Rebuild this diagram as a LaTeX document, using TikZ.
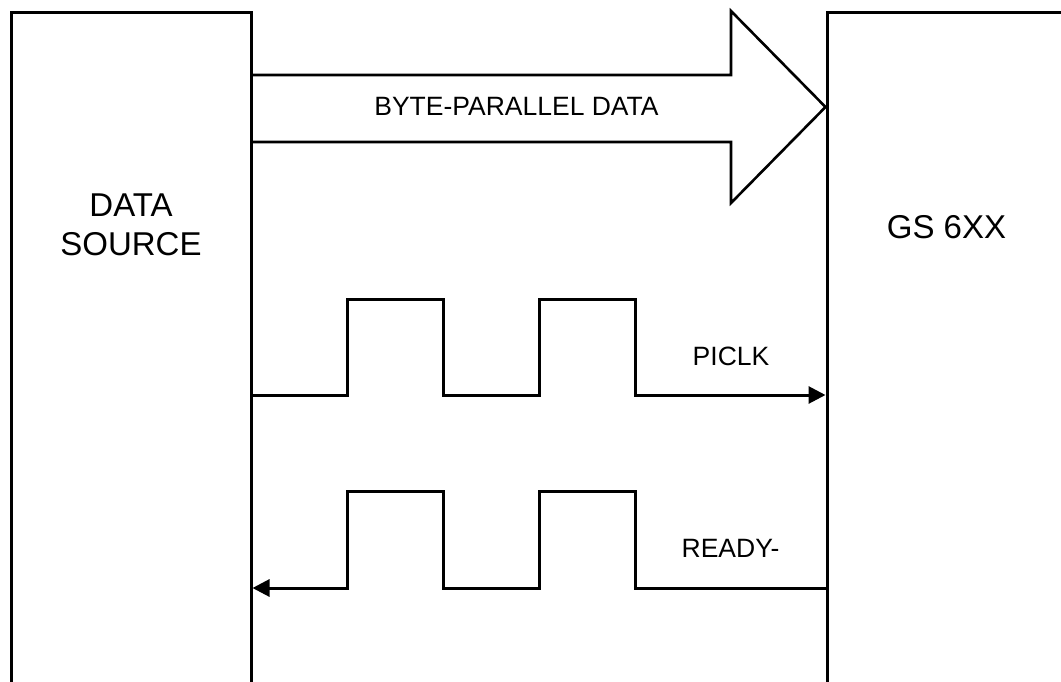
\documentclass[tikz,border=0pt]{standalone}
\usepackage{fontspec}
\setmainfont{Liberation Sans}
\usetikzlibrary{arrows.meta}
\begin{document}
\begin{tikzpicture}[x=1pt,y=-1pt,
  box/.style={draw,line width=3pt,minimum width=240pt,minimum height=700pt,inner sep=0pt},
  wire/.style={line width=3pt},
  sig/.style={wire,-{Triangle[length=17pt,width=17pt]}},
  big/.style={font=\fontsize{33}{39.5}\selectfont,align=center},
  small/.style={font=\fontsize{26.5}{30}\selectfont}]
\useasboundingbox (0,0) rectangle (1061,681);
\clip (0,0) rectangle (1061,681);
\fill[white] (0,0) rectangle (1061,681);
% boxes
\node[box] (src) at (131,362) {};
\node[box,minimum width=260pt] (gs) at (957,362) {};
\node[big] (srclbl) at (131,225) {DATA\\SOURCE};
\node[big] (gslbl) at (946.5,227) {GS 6XX};
% coordinates on box edges
\coordinate (a0) at (src.east |- 0,75);
\coordinate (a1) at (src.east |- 0,142);
\coordinate (tip) at (gs.west |- 0,107);
\coordinate (ck0) at (src.east |- 0,395);
\coordinate (ck1) at (gs.west |- 0,395);
\coordinate (rd0) at (gs.west |- 0,588);
\coordinate (rd1) at (src.east |- 0,588);
% big data arrow
\draw[line width=2.6pt,line join=miter] (a0) -- (731,75) -- (731,11) -- (tip) -- (731,203) -- (731,142) -- (a1);
\node[small] (datalbl) at (516.5,106) {BYTE-PARALLEL DATA};
% PICLK
\draw[sig] (ck0) -- (347,395) -- (347,299) -- (443,299) -- (443,395) -- (539,395) -- (539,299) -- (635,299) -- (635,395) -- (ck1);
\node[small] (clklbl) at (731,356) {PICLK};
% READY-
\draw[sig] (rd0) -- (635,588) -- (635,491) -- (539,491) -- (539,588) -- (443,588) -- (443,491) -- (347,491) -- (347,588) -- (rd1);
\node[small] (rdylbl) at (730.5,548.5) {READY-};
\end{tikzpicture}
\end{document}
